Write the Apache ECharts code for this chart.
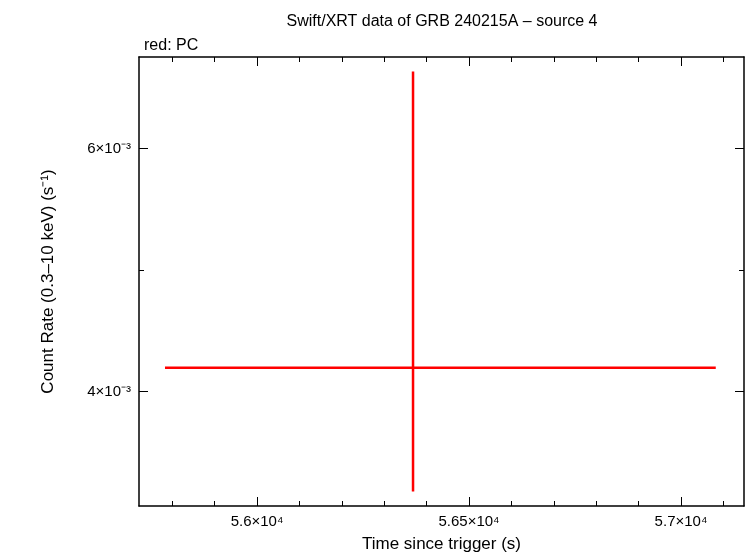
<!DOCTYPE html><html><head><script src="https://cdn.jsdelivr.net/npm/echarts@6/dist/echarts.min.js"></script></head><body style="margin:0"><div id="c" style="width:746px;height:558px"></div><script>
const xVal=[56368], xLo=[55783], xHi=[57082];
const yVal=[4.198e-3], yLo=[3.18e-3], yHi=[6.635e-3];
const xTicks=[56000,56500,57000];
const xMinor=[55800,55900,56100,56200,56300,56400,56600,56700,56800,56900,57100];
const yTicks=[4e-3,6e-3];
const yMinor=[3e-3+1e-9,5e-3,7e-3];
const sup={'0':'⁰','1':'¹','2':'²','3':'³','4':'⁴','5':'⁵','6':'⁶','7':'⁷','8':'⁸','9':'⁹','-':'⁻'};
function sci(v){let e=Math.floor(Math.log10(Math.abs(v))+1e-9);let m=+(v/Math.pow(10,e)).toFixed(2);return m+'×10'+String(e).split('').map(c=>sup[c]).join('');}
const data=xVal.map((x,i)=>[x,yVal[i],xLo[i],xHi[i],yLo[i],yHi[i]]);
const ch=echarts.init(document.getElementById('c'));
const X0=55721.7,X1=57148.6,Y0=3.06e-3,Y1=6.754e-3;
const lab={color:'#000',fontSize:15,fontFamily:'Liberation Sans'};
const line={lineStyle:{color:'#000',width:1.5}};
function mk(type,pos,min,max,major,minor,showLab,extra){
 const a=[Object.assign({type:'value',position:pos,min:min,max:max,axisLine:line,splitLine:{show:false},axisTick:{inside:true,length:9,customValues:major,lineStyle:{color:'#000'}},axisLabel:showLab?Object.assign({},lab,{customValues:major,formatter:v=>sci(v)}):{show:false}},extra||{}),
 {type:'value',position:pos,min:min,max:max,axisLine:{show:false},splitLine:{show:false},axisTick:{inside:true,length:5,customValues:minor,lineStyle:{color:'#000'}},axisLabel:{show:false}}];
 return a;}
const nts={fontSize:17,fontFamily:'Liberation Sans',color:'#000'};
const xA=[...mk('x','bottom',X0,X1,xTicks,xMinor,true,{name:'Time since trigger (s)',nameLocation:'middle',nameGap:30,nameTextStyle:nts}),...mk('x','top',X0,X1,xTicks,xMinor,false)];
const yA=[...mk('y','left',Y0,Y1,yTicks,yMinor,true,{name:'Count Rate (0.3–10 keV) (s⁻¹)',nameLocation:'middle',nameGap:82,nameTextStyle:nts}),...mk('y','right',Y0,Y1,yTicks,yMinor,false)];
ch.setOption({animation:false,
title:[{text:'Swift/XRT data of GRB 240215A – source 4',left:437,top:9,textAlign:'center',textStyle:{fontWeight:'normal',fontSize:16,fontFamily:'Liberation Sans',color:'#000'}},
{text:'red: PC',left:139,top:33,textStyle:{fontWeight:'normal',fontSize:16,fontFamily:'Liberation Sans',color:'#000'}}],
grid:{left:139,right:2,top:57,bottom:51},
xAxis:xA,yAxis:yA,
series:[{type:'custom',data:data,renderItem:(p,api)=>{const a=api.coord([api.value(2),api.value(1)]),b=api.coord([api.value(3),api.value(1)]),d=api.coord([api.value(0),api.value(4)]),e=api.coord([api.value(0),api.value(5)]);const st={stroke:'#f00',lineWidth:2.5};return{type:'group',children:[{type:'line',shape:{x1:a[0],y1:a[1],x2:b[0],y2:b[1]},style:st},{type:'line',shape:{x1:d[0],y1:d[1],x2:e[0],y2:e[1]},style:st}]};}}]});
</script></body></html>
